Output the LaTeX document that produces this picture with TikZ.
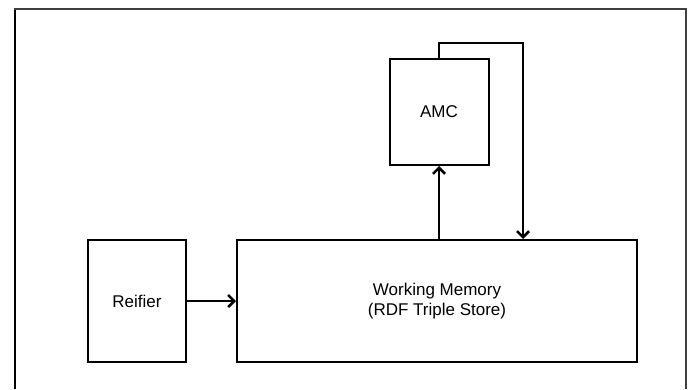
\documentclass[tikz,border=0pt]{standalone}
\usepackage{fontspec}
\setmainfont{Liberation Sans}
\usetikzlibrary{arrows.meta}
\begin{document}
\begin{tikzpicture}[x=1pt,y=-1pt,
  block/.style={draw=black,line width=2pt,inner sep=0pt,align=center,
    font=\fontsize{17}{20}\selectfont},
  arr/.style={line width=2.8pt,-{Straight Barb[length=6pt,width=12pt,line width=2.6pt]}}]
  \useasboundingbox (0,0) rectangle (693,389);
  % open frame round the diagram
  \draw[line width=2.4pt,black] (15,389) -- (15,9);
  \draw[line width=2pt,black!75] (14,9) -- (686,9) -- (686,389);
  % blocks
  \node[block,minimum width=98pt,minimum height=122pt] (reifier) at (137,301) {Reifier};
  \node[block,minimum width=400pt,minimum height=122pt] (wm) at (437,301)
    {Working Memory\\(RDF Triple Store)};
  \node[block,minimum width=99pt,minimum height=106pt] (amc) at (439,112) {AMC};
  \coordinate (fb) at (523,43);
  % connectors
  \draw[arr] (reifier.east) -- (wm.west);
  \draw[arr] (amc.south |- wm.north) -- (amc.south);
  \draw[arr] (amc.north) |- (fb) -- (fb |- wm.north);
\end{tikzpicture}
\end{document}
